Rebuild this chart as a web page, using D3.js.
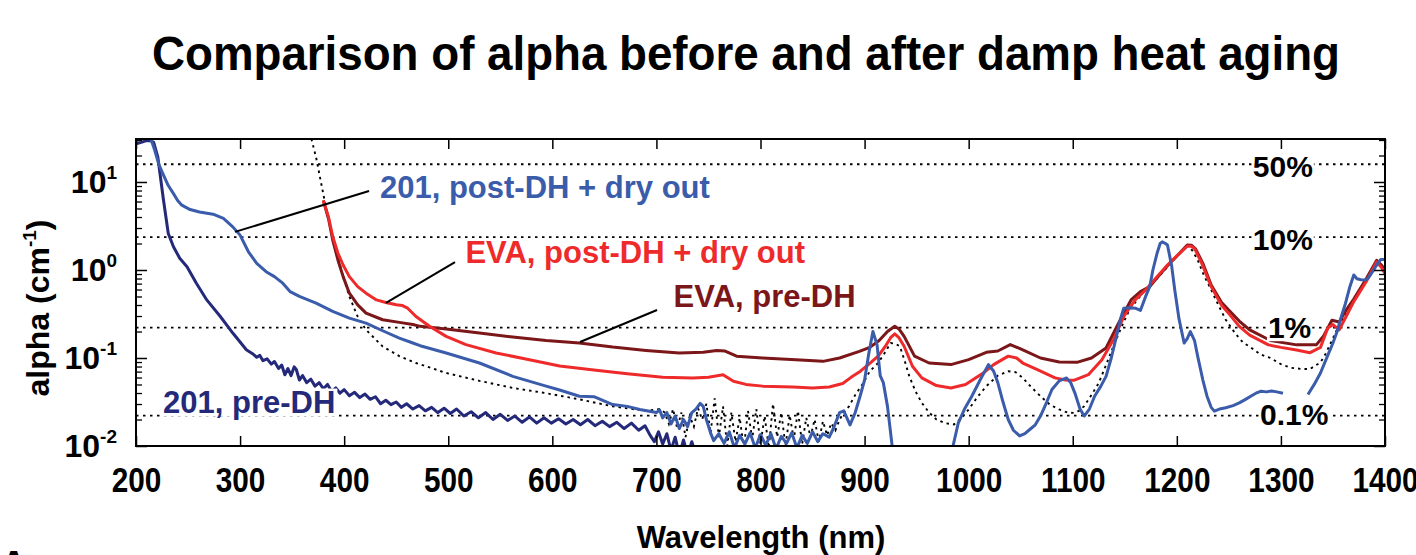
<!DOCTYPE html>
<html><head><meta charset="utf-8">
<script src="https://cdn.jsdelivr.net/npm/d3@7"></script>
<style>
body{margin:0;background:#fff}
svg{display:block}
text{font-family:"Liberation Sans",Arial,Helvetica,sans-serif;font-weight:bold}
</style>
</head><body>
<svg id="chart" width="1416" height="555"></svg>
<script>
// ---------- data (wavelength nm, alpha cm^-1) ----------
const series201Pre = [[200,27.2],[205,28.2],[210,29.5],[214,29.5],[217,28.2],[221,19.1],[226,6.76],[231,2.6],[236,1.84],[242,1.36],[249,1.09],[258,0.706],[268,0.457],[281,0.296],[293,0.192],[306,0.124],[312,0.112],[316,0.102],[319,0.107],[322,0.0933],[326,0.0977],[330,0.0851],[333,0.0912],[337,0.0759],[340,0.0832],[343,0.0646],[346,0.0759],[349,0.0631],[352,0.0794],[354,0.0741],[357,0.0562],[360,0.0631],[364,0.0525],[368,0.0575],[372,0.0479],[376,0.0525],[380,0.0447],[384,0.0501],[388,0.0417],[392,0.0457],[396,0.0398],[400,0.0437],[405,0.0372],[410,0.0407],[415,0.0355],[420,0.0389],[425,0.0339],[430,0.0363],[435,0.0302],[440,0.0331],[445,0.0295],[450,0.0316],[455,0.0275],[460,0.0302],[466,0.0263],[472,0.0288],[478,0.0251],[484,0.0275],[490,0.024],[496,0.0269],[502,0.0234],[508,0.0263],[515,0.0219],[522,0.0245],[529,0.0209],[536,0.024],[543,0.02],[550,0.0229],[557,0.0195],[564,0.0219],[571,0.0186],[578,0.0214],[585,0.0182],[592,0.0209],[599,0.0182],[606,0.0204],[613,0.0178],[620,0.02],[627,0.0174],[634,0.02],[641,0.017],[648,0.0191],[655,0.0166],[662,0.0186],[669,0.0158],[676,0.0182],[683,0.0151],[689,0.017],[694,0.0132],[698,0.0112],[702,0.0145],[706,0.0105],[710,0.0138],[714,0.0089],[718,0.0126],[722,0.0079],[726,0.0117],[730,0.0079],[734,0.0112],[738,0.0079]];

const series201Post = [[200,29.5],[205,30.9],[210,32.4],[214,31.6],[218,22.9],[222,15.8],[226,12.3],[231,9.12],[236,7.38],[240,6.17],[244,5.45],[252,4.86],[261,4.57],[274,4.31],[284,3.85],[293,3.09],[300,2.49],[308,1.61],[316,1.19],[325,0.957],[333,0.841],[341,0.708],[348,0.569],[357,0.501],[373,0.42],[389,0.339],[405,0.284],[421,0.249],[437,0.204],[453,0.168],[466,0.148],[473,0.138],[498,0.114],[530,0.0877],[562,0.0619],[594,0.0479],[607,0.0433],[626,0.0368],[640,0.0363],[658,0.0296],[672,0.0282],[684,0.026],[700,0.024],[703,0.0257],[706,0.0209],[710,0.024],[714,0.0178],[718,0.0219],[722,0.0158],[726,0.02],[730,0.0166],[734,0.024],[738,0.0263],[742,0.0305],[745,0.0282],[748,0.02],[752,0.0141],[755,0.0115],[760,0.0138],[765,0.0107],[770,0.0145],[775,0.0095],[780,0.0132],[785,0.0105],[790,0.0141],[795,0.0095],[800,0.0135],[805,0.0102],[810,0.0138],[815,0.0093],[820,0.0129],[825,0.0107],[830,0.0141],[835,0.0095],[840,0.0132],[845,0.0107],[850,0.0145],[855,0.0112],[860,0.0138],[866,0.0126],[870,0.0158],[876,0.024],[880,0.0251],[886,0.0174],[891,0.024],[896,0.038],[900,0.0562],[904,0.112],[908,0.2],[912,0.141],[915,0.0631],[918,0.0525],[922,0.0282],[927,0.0089],[950,null],[984,0.0089],[990,0.0182],[996,0.0263],[1003,0.0368],[1011,0.0562],[1019,0.0841],[1024,0.0708],[1028,0.0525],[1033,0.0316],[1038,0.02],[1043,0.0151],[1049,0.013],[1054,0.0138],[1059,0.0155],[1064,0.0174],[1069,0.0219],[1075,0.0316],[1080,0.0439],[1087,0.055],[1094,0.0594],[1098,0.0525],[1102,0.0402],[1107,0.0263],[1111,0.0219],[1116,0.0263],[1121,0.0368],[1127,0.0479],[1132,0.0619],[1137,0.1],[1142,0.176],[1146,0.282],[1149,0.368],[1155,0.372],[1160,0.368],[1165,0.347],[1170,0.501],[1174,0.647],[1177,1.0],[1181,1.55],[1184,2.0],[1186,2.09],[1189,2.0],[1191,1.92],[1195,1.12],[1198,0.594],[1202,0.282],[1207,0.148],[1210,0.166],[1213,0.2],[1217,0.158],[1220,0.105],[1225,0.0562],[1229,0.0368],[1233,0.0275],[1236,0.0249],[1241,0.0263],[1247,0.0272],[1254,0.0288],[1260,0.0309],[1266,0.0339],[1271,0.0368],[1276,0.0398],[1281,0.042],[1286,0.0412],[1291,0.0422],[1296,0.0412],[1302,0.0398],[1314,null],[1326,0.0385],[1332,0.0501],[1338,0.0676],[1345,0.107],[1350,0.148],[1354,0.2],[1358,0.295],[1362,0.417],[1366,0.631],[1370,0.877],[1373,0.794],[1377,0.776],[1381,0.769],[1384,0.813],[1388,0.955],[1392,1.14],[1396,1.32],[1400,1.32]];

const seriesEvaPost = [[380,6.17],[385,3.98],[389,2.4],[394,1.55],[399,1.14],[405,0.841],[413,0.647],[421,0.545],[431,0.457],[440,0.427],[450,0.402],[456,0.394],[461,0.368],[469,0.296],[482,0.229],[498,0.176],[517,0.142],[546,0.114],[578,0.0957],[607,0.0813],[642,0.0724],[672,0.0661],[706,0.0603],[735,0.0593],[750,0.0603],[764,0.0646],[774,0.0545],[786,0.0501],[802,0.0479],[831,0.0468],[850,0.0457],[866,0.0468],[879,0.0513],[887,0.0603],[896,0.0708],[905,0.0871],[913,0.105],[920,0.136],[925,0.17],[929,0.188],[933,0.17],[938,0.136],[946,0.0805],[955,0.0594],[969,0.0486],[983,0.0457],[997,0.0499],[1014,0.0676],[1024,0.0841],[1038,0.105],[1046,0.1],[1052,0.0877],[1066,0.0738],[1083,0.0594],[1093,0.0562],[1101,0.0558],[1115,0.0646],[1128,0.0957],[1139,0.161],[1149,0.296],[1160,0.457],[1170,0.594],[1181,0.841],[1191,1.14],[1201,1.48],[1210,1.87],[1214,1.86],[1217,1.76],[1224,1.19],[1233,0.647],[1243,0.398],[1251,0.309],[1260,0.229],[1270,0.182],[1288,0.141],[1300,0.132],[1315,0.123],[1328,0.115],[1338,0.132],[1345,0.219],[1350,0.24],[1356,0.209],[1363,0.302],[1370,0.437],[1382,0.741],[1392,1.24],[1397,1.05],[1400,0.912]];

const seriesEvaPre = [[380,6.17],[385,3.8],[389,2.19],[394,1.3],[399,0.841],[405,0.545],[413,0.402],[421,0.324],[437,0.272],[453,0.254],[466,0.24],[473,0.229],[498,0.213],[530,0.192],[562,0.173],[594,0.158],[626,0.148],[658,0.133],[690,0.122],[722,0.114],[745,0.116],[758,0.122],[766,0.12],[777,0.105],[802,0.1],[834,0.0957],[860,0.0916],[876,0.1],[895,0.119],[905,0.132],[914,0.158],[922,0.2],[929,0.229],[933,0.214],[938,0.176],[948,0.105],[962,0.0877],[983,0.0841],[1000,0.0957],[1017,0.116],[1028,0.12],[1040,0.142],[1052,0.124],[1069,0.1],[1087,0.0902],[1104,0.0893],[1118,0.1],[1132,0.13],[1144,0.249],[1156,0.457],[1165,0.569],[1174,0.647],[1181,0.813],[1191,1.12],[1201,1.48],[1210,1.92],[1214,1.91],[1218,1.74],[1225,1.19],[1233,0.676],[1243,0.427],[1251,0.339],[1260,0.263],[1270,0.209],[1290,0.158],[1315,0.141],[1334,0.141],[1341,0.178],[1349,0.269],[1356,0.257],[1363,0.355],[1370,0.468],[1382,0.794],[1392,1.29],[1397,1.12],[1400,1.0]];

const seriesDotted = [[368.5,30.9],[373,19.1],[378,9.55],[383,4.79],[388,2.6],[393,1.55],[399,0.84],[405,0.5],[413,0.295],[421,0.209],[437,0.135],[453,0.105],[469,0.0877],[498,0.0676],[530,0.055],[562,0.0457],[594,0.0398],[626,0.0339],[658,0.0282],[690,0.0251],[703,0.0263],[708,0.024],[712,0.0178],[716,0.0263],[720,0.0158],[724,0.024],[728,0.0126],[732,0.0219],[736,0.0166],[740,0.0269],[744,0.02],[748,0.0302],[752,0.0141],[756,0.0347],[760,0.0126],[764,0.0282],[768,0.01],[772,0.024],[776,0.0112],[780,0.0209],[784,0.0095],[788,0.0251],[792,0.012],[796,0.0263],[800,0.0105],[804,0.0219],[808,0.0095],[812,0.0302],[816,0.0126],[820,0.024],[824,0.01],[828,0.0224],[832,0.012],[836,0.0251],[840,0.0105],[844,0.0209],[848,0.0126],[852,0.02],[856,0.0112],[860,0.0191],[864,0.0132],[868,0.0182],[872,0.0151],[876,0.02],[880,0.024],[885,0.0282],[891,0.038],[899,0.0525],[905,0.0708],[913,0.0877],[920,0.1175],[925,0.148],[930,0.145],[934,0.135],[939,0.0891],[943,0.0617],[949,0.0417],[955,0.0309],[962,0.024],[969,0.02],[977,0.0182],[986,0.0176],[993,0.0209],[1000,0.026],[1008,0.0355],[1017,0.0479],[1028,0.0631],[1038,0.0708],[1045,0.0692],[1052,0.0594],[1060,0.0468],[1069,0.0368],[1078,0.0295],[1087,0.026],[1095,0.024],[1101,0.0238],[1106,0.0251],[1111,0.0284],[1118,0.038],[1125,0.0521],[1132,0.0832],[1139,0.1355],[1146,0.214],[1153,0.324],[1160,0.427],[1167,0.545],[1174,0.661],[1181,0.805],[1190,1.047],[1198,1.355],[1205,1.66],[1210,1.92],[1215,1.66],[1220,1.3],[1226,0.871],[1233,0.594],[1240,0.398],[1247,0.272],[1256,0.191],[1264,0.148],[1270,0.135],[1280,0.11],[1290,0.1],[1300,0.0851],[1309,0.0776],[1320,0.075],[1328,0.075],[1334,0.0832],[1338,0.0891],[1343,0.112],[1347,0.141],[1353,0.2],[1360,0.285],[1366,0.38],[1373,0.525],[1379,0.676],[1386,0.877],[1391,1.07],[1395,1.29],[1400,1.35]];

// reference absorption levels (alpha values) and their labels
const pctLevels = [15.9, 2.36, 0.221, 0.0221];
const pctLabels = ["50%", "10%", "1%", "0.1%"];

// axis ticks
const xTicks = [200,300,400,500,600,700,800,900,1000,1100,1200,1300,1400];
const yDecades = [0.01, 0.1, 1, 10];
const yExponents = ["-2", "-1", "0", "1"];

// ---------- layout / styles ----------
const L = 136, R = 1385, T = 139, B = 446;
const colors = {pre201:"#24297a", post201:"#3a5cab", evaPost:"#ee2a2b", evaPre:"#7b1619"};

const svg = d3.select("#chart");
const x = d3.scaleLinear().domain([200, 1400]).range([L, R]);
const y = d3.scaleLog().domain([0.01, 30.8]).range([B, T]);

svg.append("defs").append("clipPath").attr("id","clip")
  .append("rect").attr("x",L).attr("y",T).attr("width",R-L).attr("height",B-T);

// title
svg.append("text").attr("x",152).attr("y",70)
  .attr("font-size",48).attr("textLength",1188).attr("lengthAdjust","spacingAndGlyphs")
  .text("Comparison of alpha before and after damp heat aging");

// percent dotted lines
svg.append("g").selectAll("line").data(pctLevels).join("line")
  .attr("x1",L).attr("x2",R).attr("y1",d=>y(d)).attr("y2",d=>y(d))
  .attr("stroke","#000").attr("stroke-width",1.8).attr("stroke-dasharray","2.5,4.5");

const line = d3.line().defined(d=>d[1]!==null).x(d=>x(d[0])).y(d=>y(d[1])).curve(d3.curveLinear);
const plot = svg.append("g").attr("clip-path","url(#clip)");

plot.append("path").datum(seriesDotted).attr("d",line).attr("fill","none")
  .attr("stroke","#000").attr("stroke-width",1.9).attr("stroke-dasharray","2.5,4");
plot.append("path").datum(seriesEvaPre).attr("d",line).attr("fill","none")
  .attr("stroke",colors.evaPre).attr("stroke-width",3).attr("stroke-linejoin","round");
plot.append("path").datum(seriesEvaPost).attr("d",line).attr("fill","none")
  .attr("stroke",colors.evaPost).attr("stroke-width",3).attr("stroke-linejoin","round");
plot.append("path").datum(series201Pre).attr("d",line).attr("fill","none")
  .attr("stroke",colors.pre201).attr("stroke-width",3).attr("stroke-linejoin","round");
plot.append("path").datum(series201Post).attr("d",line).attr("fill","none")
  .attr("stroke",colors.post201).attr("stroke-width",3).attr("stroke-linejoin","round");

// percent labels with white background
const pctPos = [{wl:1273, dy:12.5},{wl:1273, dy:12.5},{wl:1287.5, dy:10.5},{wl:1280, dy:9.5}];
pctLevels.forEach((v,i)=>{
  const g = svg.append("g");
  const t = g.append("text").attr("x",x(pctPos[i].wl)).attr("y",y(v)+pctPos[i].dy)
    .attr("font-size",30).attr("fill","#000").text(pctLabels[i]);
  const bb = t.node().getBBox();
  g.insert("rect","text").attr("x",bb.x-1).attr("y",y(v)+pctPos[i].dy-23)
    .attr("width",bb.width+2).attr("height",26).attr("fill","#fff");
});

// series labels (anchored in data coordinates)
const labels = [
  {text:"201, post-DH + dry out", wl:434.4, a:6.58, color:colors.post201, bg:false},
  {text:"EVA, post-DH + dry out", wl:516.5, a:1.21, color:colors.evaPost, bg:false},
  {text:"EVA, pre-DH", wl:716.5, a:0.376, color:colors.evaPre, bg:false},
  {text:"201, pre-DH", wl:226, a:0.0240, color:colors.pre201, bg:true}
];
labels.forEach(l=>{
  const g = svg.append("g");
  const t = g.append("text").attr("x",x(l.wl)).attr("y",y(l.a))
    .attr("font-size",31).attr("fill",l.color).text(l.text);
  if(l.bg){
    const bb = t.node().getBBox();
    g.insert("rect","text").attr("x",bb.x-2).attr("y",y(l.a)-24)
      .attr("width",bb.width+4).attr("height",28).attr("fill","#fff");
  }
});

// leader lines
const leaders = [
  [[423.9,7.9],[295.1,2.71]],
  [[506.5,1.23],[440.2,0.422]],
  [[700.6,0.351],[626.6,0.152]]
];
svg.append("g").selectAll("line").data(leaders).join("line")
  .attr("x1",d=>x(d[0][0])).attr("y1",d=>y(d[0][1]))
  .attr("x2",d=>x(d[1][0])).attr("y2",d=>y(d[1][1]))
  .attr("stroke","#000").attr("stroke-width",2);

// axes
const minor = [];
yDecades.forEach(d=>{ for(let k=2;k<=9;k++){ const v=d*k; if(v<30.8) minor.push(v);} });

const gx = svg.append("g").attr("transform",`translate(0,${B})`)
  .call(d3.axisBottom(x).tickValues(xTicks).tickSize(-10).tickPadding(21).tickFormat(d3.format("d")));
gx.select(".domain").remove();
gx.selectAll("line").attr("stroke-width",1.5);
gx.selectAll("text").attr("font-size",35).attr("fill","#000")
  .attr("font-family",'"Liberation Sans",Arial,sans-serif').attr("font-weight","bold")
  .attr("transform","scale(0.85,1)");

const gxt = svg.append("g").attr("transform",`translate(0,${T})`)
  .call(d3.axisTop(x).tickValues(xTicks).tickSize(-10).tickFormat(""));
gxt.select(".domain").remove();
gxt.selectAll("line").attr("stroke-width",1.5);

[[d3.axisLeft, L],[d3.axisRight, R]].forEach(([ax,pos])=>{
  const g1 = svg.append("g").attr("transform",`translate(${pos},0)`)
    .call(ax(y).tickValues(yDecades).tickSize(-11).tickFormat(""));
  g1.select(".domain").remove(); g1.selectAll("line").attr("stroke-width",1.5);
  const g2 = svg.append("g").attr("transform",`translate(${pos},0)`)
    .call(ax(y).tickValues(minor).tickSize(-6).tickFormat(""));
  g2.select(".domain").remove(); g2.selectAll("line").attr("stroke-width",1.3);
});

// y tick labels 10^n
const yl = svg.append("g");
yDecades.forEach((d,i)=>{
  const t = yl.append("text").attr("x",117).attr("y",y(d)+11).attr("text-anchor","end").attr("fill","#000");
  t.append("tspan").attr("font-size",32).text("10");
  t.append("tspan").attr("font-size",19).attr("dy",-14).text(yExponents[i]);
});

// frame
svg.append("rect").attr("x",L).attr("y",T).attr("width",R-L).attr("height",B-T)
  .attr("fill","none").attr("stroke","#000").attr("stroke-width",2);

// axis titles
svg.append("text").attr("x",761).attr("y",548).attr("text-anchor","middle")
  .attr("font-size",31).text("Wavelength (nm)");
const yt = svg.append("text").attr("transform","translate(49,308) rotate(-90)")
  .attr("text-anchor","middle").attr("font-size",32);
yt.append("tspan").text("alpha (cm");
yt.append("tspan").attr("font-size",19).attr("dy",-13).text("-1");
yt.append("tspan").attr("dy",13).text(")");

// panel letter (cut off at bottom)
svg.append("text").attr("x",0).attr("y",578).attr("font-size",38).text("A");
</script>
</body></html>
